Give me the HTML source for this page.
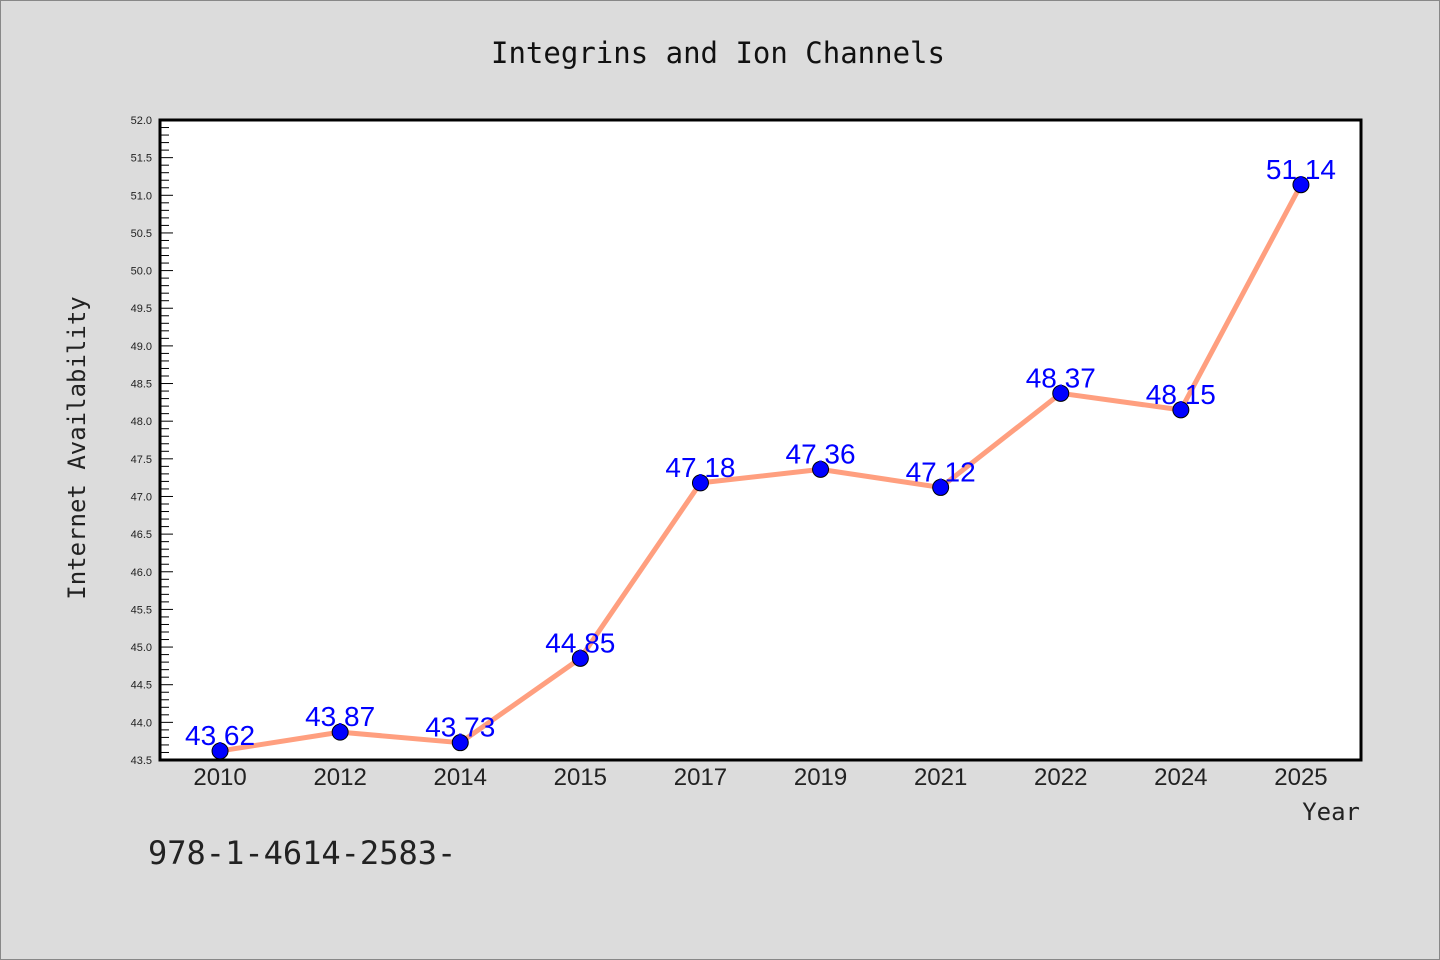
<!DOCTYPE html>
<html><head><meta charset="utf-8"><style>
html,body{margin:0;padding:0;background:#dcdcdc;}
svg{display:block;font-family:"Liberation Sans","DejaVu Sans",sans-serif;}
</style></head><body>
<svg id="chart" width="1440" height="960">
<rect x="0.5" y="0.5" width="1439" height="959" fill="#dcdcdc" stroke="#888"/>
<text x="718" y="63" text-anchor="middle" font-size="29" font-family="DejaVu Sans Mono, monospace" fill="#111">Integrins and Ion Channels</text>
<rect x="160" y="120" width="1201" height="640" fill="#fff"/>
<g id="yaxis"></g>
<g id="xaxis"></g>
<g id="series"></g>
<rect x="160" y="120" width="1201" height="640" fill="none" stroke="#000" stroke-width="3"/>
<text x="85" y="448" transform="rotate(-90 85 448)" text-anchor="middle" font-size="24" font-family="DejaVu Sans Mono, monospace" fill="#222">Internet Availability</text>
<text x="1360" y="820" text-anchor="end" font-size="24" font-family="DejaVu Sans Mono, monospace" fill="#222">Year</text>
<text x="148" y="864" font-size="32" font-family="DejaVu Sans Mono, monospace" fill="#222">978-1-4614-2583-</text>
</svg>
<script>
const categories=["2010","2012","2014","2015","2017","2019","2021","2022","2024","2025"];
const values=[43.62,43.87,43.73,44.85,47.18,47.36,47.12,48.37,48.15,51.14];
const valueLabels=["43.62","43.87","43.73","44.85","47.18","47.36","47.12","48.37","48.15","51.14"];
const yMin=43.5,yMax=52.0;
const NS="http://www.w3.org/2000/svg";
const L=160,R=1361,T=120,B=760;
function yScale(v){return B-(v-yMin)/(yMax-yMin)*(B-T);}
function xScale(i){return L+(R-L)/categories.length*(i+0.5);}
function mk(tag,attrs,parent){const e=document.createElementNS(NS,tag);for(const k in attrs)e.setAttribute(k,attrs[k]);parent.appendChild(e);return e;}
const ya=document.getElementById('yaxis');
for(let k=0;k<=85;k++){
  const v=yMin+k*0.1;const y=yScale(v);const major=k%5===0;
  const t=mk('line',{x1:L,x2:L+(major?13:9),y1:y,y2:y,stroke:'#000','stroke-width':1},ya);
  
  
  if(major){const tx=mk('text',{x:L-8,y:y+4,'text-anchor':'end','font-size':11,fill:'#222'},ya);tx.textContent=v.toFixed(1);
  
  }
}
const xa=document.getElementById('xaxis');
categories.forEach((c,i)=>{const tx=mk('text',{x:xScale(i),y:785,'text-anchor':'middle','font-size':24,fill:'#222'},xa);tx.textContent=c;

});
const s=document.getElementById('series');
const pts=values.map((v,i)=>xScale(i)+','+yScale(v)).join(' ');
const pl=mk('polyline',{points:pts,fill:'none',stroke:'#ff9f7f','stroke-width':5,'stroke-linejoin':'round'},s);


values.forEach((v,i)=>{
  const c=mk('circle',{cx:xScale(i),cy:yScale(v),r:8,fill:'#0000ff',stroke:'#000','stroke-width':1},s);
  
  
  const t=mk('text',{x:xScale(i),y:yScale(v)-6,'text-anchor':'middle','font-size':28,fill:'#0000ff'},s);
  t.textContent=valueLabels[i];
  
  
});
</script>
</body></html>
